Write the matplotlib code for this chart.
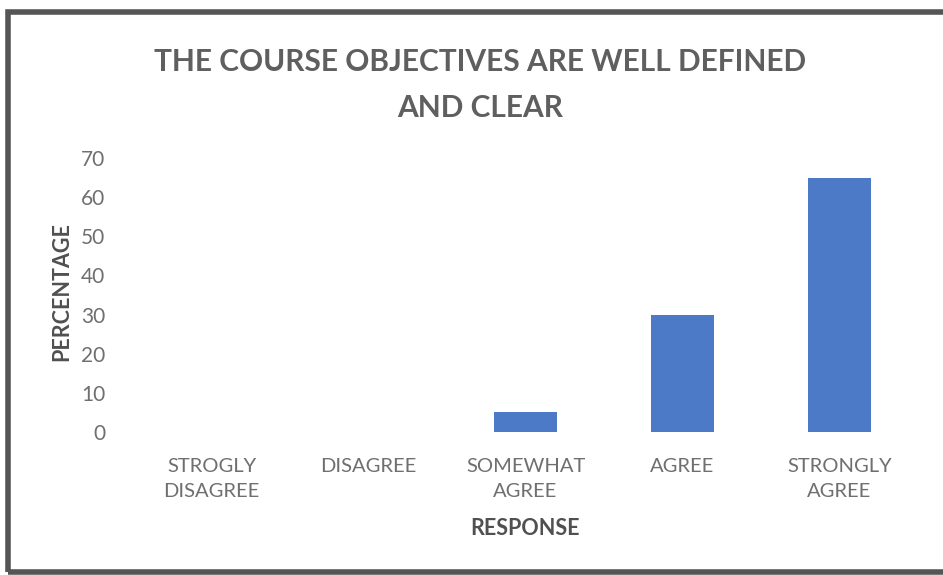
import matplotlib.pyplot as plt
from matplotlib.patches import Rectangle

categories = ["STROGLY\nDISAGREE", "DISAGREE", "SOMEWHAT\nAGREE", "AGREE", "STRONGLY\nAGREE"]
percentages = [0, 0, 5, 30, 65]
yticks = [0, 10, 20, 30, 40, 50, 60, 70]

plt.rcParams['font.family'] = ['Lato', 'DejaVu Sans']

fig = plt.figure(figsize=(9.43, 5.75), dpi=100)
ax = fig.add_axes([133 / 943, 1 - 432 / 575, 785 / 943, 274 / 575 * 72 / 70])

ax.bar(range(len(categories)), percentages, width=0.4, color='#4c7ac7')

ax.set_xlim(-0.5, len(categories) - 0.5)
ax.set_ylim(0, 72)
ax.set_yticks(yticks)
ax.set_xticks(range(len(categories)))
ax.set_xticklabels(categories, fontsize=14.5, color='#6f6f6f', linespacing=1.55)
ax.tick_params(axis='y', labelsize=15, labelcolor='#6f6f6f', length=0, pad=20)
ax.tick_params(axis='x', length=0, pad=19)
for s in ax.spines.values():
    s.set_visible(False)

ax.set_ylabel("PERCENTAGE", fontsize=15.5, fontweight='bold', color='#505050', labelpad=6)
ax.set_xlabel("RESPONSE", fontsize=15.5, fontweight='bold', color='#505050', labelpad=13)

fig.text(0.509, 0.852, "THE COURSE OBJECTIVES ARE WELL DEFINED\nAND CLEAR", ha='center', va='center',
         fontsize=21.5, fontweight='bold', color='#5f5f5f', linespacing=1.75)

# scanned frame edges
fig.patches.append(Rectangle((8 / 943, 3 / 575), 940 / 943, 1 - 15 / 575, transform=fig.transFigure,
                             fill=False, edgecolor='#555555', linewidth=4))

fig.savefig("out.png", dpi=100)
